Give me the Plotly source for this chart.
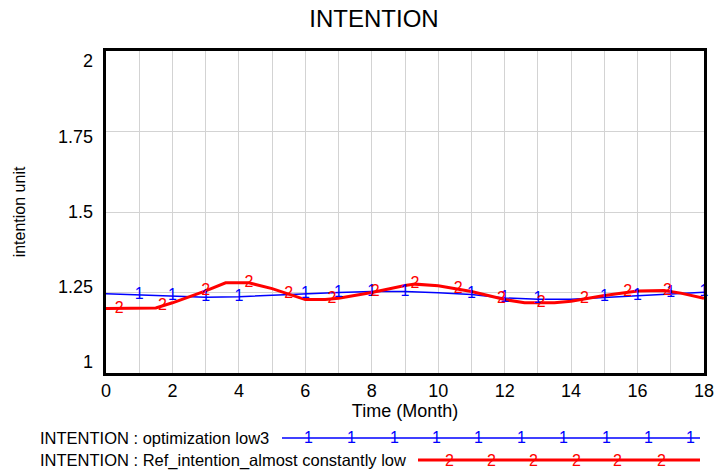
import numpy as np
import plotly.graph_objects as go

# ---- data ----
months_blue = [0, 1, 2, 3, 4, 5, 6, 7, 8, 9, 10, 11, 12, 13, 14, 15, 16, 17, 18]
intention_opt_low3 = [1.246, 1.243, 1.239, 1.235, 1.237, 1.242, 1.246, 1.250, 1.253, 1.253,
                      1.249, 1.244, 1.233, 1.229, 1.229, 1.235, 1.239, 1.247, 1.251]

months_red = [0, 1, 1.5, 2, 3, 3.6, 4.3, 5, 6, 6.6, 7, 8, 9, 9.3, 10, 11, 12, 12.6, 13.5,
              14, 15, 16, 16.8, 17.3, 18]
intention_ref_low = [1.200, 1.200, 1.202, 1.218, 1.255, 1.280, 1.280, 1.262, 1.228, 1.228,
                     1.232, 1.250, 1.272, 1.276, 1.271, 1.253, 1.228, 1.218, 1.218,
                     1.223, 1.241, 1.255, 1.256, 1.248, 1.232]

blue_marker_months = [1, 2, 3, 4, 6, 7, 8, 9, 11, 12, 13, 15, 16, 17, 18]
red_marker_months = [0.4, 1.7, 3.0, 4.3, 5.5, 6.8, 8.1, 9.3, 10.6, 11.9, 13.1, 14.4, 15.7, 16.9]

x_tick_vals = list(range(0, 19))
x_tick_text = [str(v) if v % 2 == 0 else "" for v in x_tick_vals]
y_tick_vals = [1, 1.25, 1.5, 1.75, 2]
y_tick_text = ["1", "1.25", "1.5", "1.75", "2"]

series1_name = "INTENTION : optimization low3"
series2_name = "INTENTION : Ref_intention_almost constantly low"

BLUE = "#0000FF"
RED = "#FF0000"
FONT = "Liberation Sans, Arial, sans-serif"

W, H = 715, 474
L, R, T, B = 106, 11, 51, 101
pw, ph = W - L - R, H - T - B

# the label column of the value axis is drawn on a slightly compressed scale
# (labels sit between 61 px and 362 px from the top, the plot spans 51..373)
lab_top_px, lab_bot_px = 61, 362
unit_px = (lab_bot_px - lab_top_px) / (max(y_tick_vals) - min(y_tick_vals))
y2_range = [min(y_tick_vals) - (H - B - lab_bot_px) / unit_px,
            max(y_tick_vals) + (lab_top_px - T) / unit_px]

fig = go.Figure()
fig.add_trace(go.Scatter(x=months_blue, y=intention_opt_low3, mode="lines",
                         line=dict(color=BLUE, width=1.5), showlegend=False, hoverinfo="skip"))
fig.add_trace(go.Scatter(x=months_red, y=intention_ref_low, mode="lines",
                         line=dict(color=RED, width=3), showlegend=False, hoverinfo="skip"))
fig.add_trace(go.Scatter(x=blue_marker_months,
                         y=np.interp(blue_marker_months, months_blue, intention_opt_low3),
                         mode="text", text=["1"] * len(blue_marker_months),
                         textfont=dict(color=BLUE, size=16, family=FONT),
                         textposition="middle center", showlegend=False, hoverinfo="skip",
                         cliponaxis=False))
fig.add_trace(go.Scatter(x=red_marker_months,
                         y=np.interp(red_marker_months, months_red, intention_ref_low),
                         mode="text", text=["2"] * len(red_marker_months),
                         textfont=dict(color=RED, size=16, family=FONT),
                         textposition="middle center", showlegend=False, hoverinfo="skip",
                         cliponaxis=False))
# invisible trace that anchors the label axis
fig.add_trace(go.Scatter(x=[None], y=[None], yaxis="y2", mode="lines",
                         showlegend=False, hoverinfo="skip"))


def px_x(p):
    return (p - L) / pw


def px_y(p):
    return (H - B - p) / ph


# custom legend
legend_rows = [
    (series1_name, BLUE, 1.5, 282, 700, 438, "1", [308, 351, 394, 436, 478, 521, 563, 606, 648, 690]),
    (series2_name, RED, 3, 418, 700, 460, "2", [450, 491, 533, 576, 617, 661]),
]
annotations = []
shapes = []
for name, col, w, x0, x1, yy, lab, marks in legend_rows:
    annotations.append(dict(text=name, xref="paper", yref="paper", x=px_x(38), y=px_y(yy),
                            xanchor="left", yanchor="middle", showarrow=False,
                            font=dict(size=16.5, color="black", family=FONT)))
    shapes.append(dict(type="line", xref="paper", yref="paper", x0=px_x(x0), x1=px_x(x1),
                       y0=px_y(yy), y1=px_y(yy), line=dict(color=col, width=w)))
    for m in marks:
        annotations.append(dict(text=lab, xref="paper", yref="paper", x=px_x(m), y=px_y(yy),
                                xanchor="center", yanchor="middle", showarrow=False,
                                font=dict(size=16, color=col, family=FONT)))

fig.update_layout(
    width=W, height=H,
    margin=dict(l=L, r=R, t=T, b=B, autoexpand=False),
    paper_bgcolor="white", plot_bgcolor="white",
    title=dict(text="INTENTION", x=374 / W, xref="container", xanchor="center",
               y=1 - 19 / H, yref="container", yanchor="middle",
               font=dict(size=24, color="black", family=FONT)),
    font=dict(family=FONT, color="black"),
    annotations=annotations, shapes=shapes,
    xaxis=dict(range=[0, 18], tickvals=x_tick_vals, ticktext=x_tick_text,
               showgrid=True, gridcolor="#d3d3d3", gridwidth=1,
               showline=True, linecolor="black", linewidth=2.5, mirror=True,
               ticks="", zeroline=False, automargin=False,
               tickfont=dict(size=18, family=FONT, color="black"),
               title=dict(text="Time (Month)", font=dict(size=18, family=FONT, color="black"),
                          standoff=4)),
    yaxis=dict(range=[1, 2], tickvals=y_tick_vals, showticklabels=False,
               showgrid=True, gridcolor="#d3d3d3", gridwidth=1,
               showline=True, linecolor="black", linewidth=2.5, mirror=True,
               ticks="", zeroline=False, automargin=False,
               title=dict(text="intention unit", font=dict(size=16, family=FONT, color="black"),
                          standoff=74)),
    yaxis2=dict(range=y2_range, overlaying="y", side="left", tickvals=y_tick_vals,
                ticktext=y_tick_text, showgrid=False, showline=False, zeroline=False,
                ticks="", ticklabelstandoff=12, automargin=False,
                tickfont=dict(size=18, family=FONT, color="black")),
)

fig.write_html("out.html")
